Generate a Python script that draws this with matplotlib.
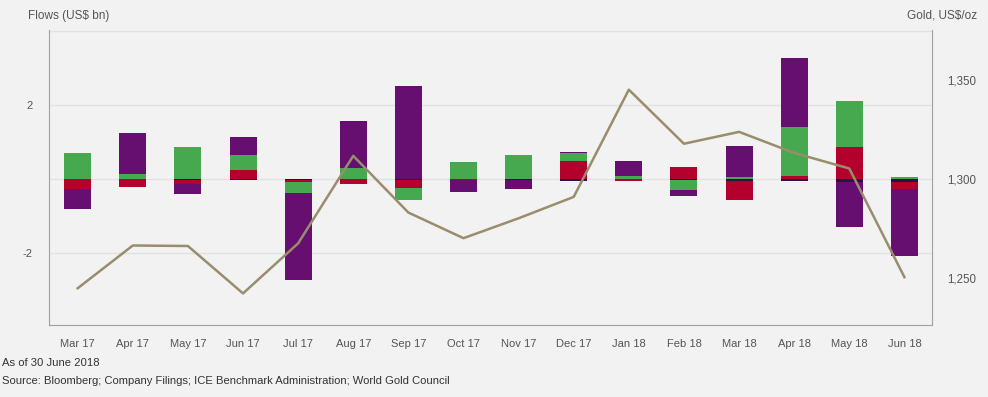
import numpy as np
import matplotlib.pyplot as plt

plt.rcParams['font.family'] = ['Liberation Sans', 'DejaVu Sans']

months = ["Mar 17", "Apr 17", "May 17", "Jun 17", "Jul 17", "Aug 17", "Sep 17", "Oct 17",
          "Nov 17", "Dec 17", "Jan 18", "Feb 18", "Mar 18", "Apr 18", "May 18", "Jun 18"]

# flows by series, US$ bn (stacked outward from zero in this order)
other = [0.0, 0.0, -0.03, -0.02, -0.03, 0.0, -0.03, 0.0,
         -0.03, -0.05, 0.0, -0.02, -0.05, -0.05, -0.07, -0.08]
red = [-0.28, -0.21, -0.11, 0.23, -0.05, -0.14, -0.22, -0.03,
       0.0, 0.49, -0.05, 0.33, -0.52, 0.09, 0.87, -0.18]
green = [0.71, 0.14, 0.87, 0.41, -0.29, 0.31, -0.33, 0.47,
         0.65, 0.22, 0.07, -0.27, 0.06, 1.33, 1.25, 0.05]
purple = [-0.53, 1.11, -0.26, 0.49, -2.36, 1.25, 2.52, -0.33,
          -0.25, 0.03, 0.41, -0.18, 0.83, 1.87, -1.22, -1.83]

gold = [1244.85, 1266.45, 1266.20, 1242.25, 1267.55, 1311.75, 1283.10, 1270.15,
        1280.20, 1291.00, 1345.15, 1317.85, 1323.85, 1313.20, 1305.35, 1250.45]

series = [(other, '#2b1340'), (red, '#b4002d'), (green, '#46a84f'), (purple, '#660f70')]

bg = '#f2f2f2'
fig = plt.figure(figsize=(9.88, 3.97), dpi=100, facecolor=bg)
ax = fig.add_axes([0.0496, 0.1814, 0.8937, 0.743])
ax.set_facecolor(bg)

x = np.arange(len(months))
pos_base = np.zeros(len(months))
neg_base = np.zeros(len(months))
for vals, col in series:
    v = np.array(vals)
    b = np.where(v >= 0, pos_base, neg_base)
    ax.bar(x, v, width=0.49, bottom=b, color=col, zorder=3, linewidth=0)
    pos_base += np.where(v >= 0, v, 0)
    neg_base += np.where(v < 0, v, 0)

ax.set_xlim(-0.52, 15.5)
ax.set_ylim(-3.96, 4.04)
ax.set_yticks([-2, 0, 2, 4])
ax.set_yticklabels(['-2', '', '2', ''])
ax.grid(axis='y', color='#e2e2e2', linewidth=1, zorder=0)
ax.set_xticks(x)
ax.set_xticklabels(months)
ax.tick_params(axis='both', length=0, labelsize=8, colors='#555555')
ax.tick_params(axis='x', pad=10)
ax.tick_params(axis='y', pad=12)
for s in ['left', 'bottom']:
    ax.spines[s].set_color('#a0a0a0')
ax.spines['top'].set_visible(False)
ax.spines['right'].set_visible(False)

ax2 = ax.twinx()
ax2.plot(x, gold, color='#988d6c', linewidth=1.8, zorder=4)
ax2.set_ylim(1226.3, 1375.3)
ax2.set_yticks([1250, 1300, 1350])
ax2.set_yticklabels(['1,250', '1,300', '1,350'])
ax2.tick_params(axis='y', length=0, labelsize=8.3, colors='#555555', pad=11)
ax2.spines['right'].set_color('#a0a0a0')
ax2.spines['top'].set_visible(False)
ax2.spines['left'].set_visible(False)
ax2.spines['bottom'].set_visible(False)

fig.text(0.028, 0.96, 'Flows (US$ bn)', fontsize=8.5, color='#555555', va='center')
fig.text(0.989, 0.96, 'Gold, US$/oz', fontsize=8.5, color='#555555', va='center', ha='right')
fig.text(0.002, 0.085, 'As of 30 June 2018', fontsize=8.1, color='#333333', va='center')
fig.text(0.002, 0.04, 'Source: Bloomberg; Company Filings; ICE Benchmark Administration; World Gold Council',
         fontsize=8.1, color='#333333', va='center')

fig.savefig('out.png', dpi=100, facecolor=bg)
